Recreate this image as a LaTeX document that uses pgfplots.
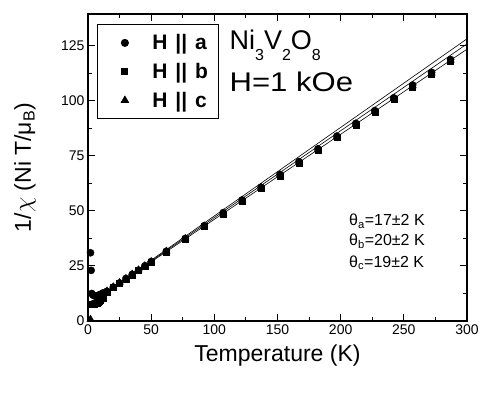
\documentclass[border=0pt]{standalone}
\usepackage{fontspec}
\setmainfont{Liberation Sans}
\usepackage{pgfplots}
\pgfplotsset{compat=1.18}
\pgfplotsset{legmark/.style={legend image code/.code={%
    \path (0pt,0pt) (30pt,0pt);
    \draw[##1] plot coordinates {(19pt,0pt)};}}}

\newcommand{\leg}[1]{\hspace{14pt}H\hspace{8pt}||\hspace{8pt}#1}

\begin{document}
\begin{tikzpicture}
\path[use as bounding box] (-88pt,-77pt) rectangle (403pt,321pt);
\begin{axis}[
    scale only axis,
    width=379pt, height=307pt,
    xmin=0, xmax=300, ymin=0, ymax=139.5,
    xtick={0,50,...,300}, ytick={0,25,...,125},
    minor x tick num=1, minor y tick num=1,
    tick align=inside,
    major tick length=7pt, minor tick length=4pt,
    axis line style={line width=1.3pt},
    every tick/.style={black, line width=1pt},
    tick label style={font=\fontsize{14}{16}\selectfont},
    /pgf/number format/assume math mode=true,
    xlabel={Temperature (K)},
    ylabel={1/$\chi$ (Ni T/μ\textsubscript{B})},
    label style={font=\fontsize{23}{26}\selectfont},
    xlabel style={at={(axis description cs:0.5,-0.111)}, anchor=center},
    ylabel style={at={(axis description cs:-0.166,0.5)}, anchor=center},
    legend style={at={(axis description cs:0.024,0.967)}, anchor=north west,
        draw=black, line width=0.8pt, font=\bfseries\fontsize{21}{23}\selectfont,
        row sep=8pt, inner xsep=8pt, inner ysep=8pt, legend cell align=left},
]
% Curie-Weiss fits
\addplot[black, line width=0.6pt, forget plot] coordinates {(2,8.3)(300,128.2)};
\addplot[black, line width=0.6pt, forget plot] coordinates {(2,8.3)(300,125.9)};
\addplot[black, line width=0.6pt, forget plot] coordinates {(2,8.3)(300,123.5)};

% H || a
\addplot[only marks, mark=*, mark size=3.6pt, black, legmark] coordinates {
    (2,31)(2.5,23)(3,12.5)(4,11.8)(5,11.5)(6,11.3)(7,11.4)(8,11.6)(9,11.9)(10,12.2)(12,12.8)
    (15,13.5)(20,15.4)(25,17.3)(30,19.3)(35,21.2)(40,23.1)(45,25.1)(50,27.0)
    (62,31.7)(77,37.5)(92,43.3)(107,49.2)(122,55.0)(137,60.8)(152,66.6)(167,72.4)
    (182,78.2)(197,84.0)(212,89.8)(227,95.6)(242,101.4)(257,107.2)(272,113.0)(287,118.8)
};
\addlegendentry{\leg{a}}
% H || b
\addplot[only marks, mark=square*, mark size=3pt, black, legmark] coordinates {
    (2,7.8)(3,7.6)(4,7.6)(5,7.8)(6,8.0)(7,8.3)(8,8.6)(9,9.0)(10,9.4)(12,10.2)
    (15,13.3)(20,15.2)(25,17.1)(30,19.0)(35,21.0)(40,22.9)(45,24.8)(50,26.7)
    (62,31.4)(77,37.1)(92,42.9)(107,48.7)(122,54.5)(137,60.2)(152,66.0)(167,71.8)
    (182,77.6)(197,83.3)(212,89.1)(227,94.9)(242,100.7)(257,106.4)(272,112.2)(287,118.0)
};
\addlegendentry{\leg{b}}
% H || c
\addplot[only marks, mark=triangle*, mark size=4.2pt, black, legmark] coordinates {
    (2,0.8)(3,7.4)(4,7.6)(5,7.9)(6,8.2)(7,8.5)(8,8.8)(9,9.2)(10,9.6)(12,10.4)
    (15,13.6)(20,15.5)(25,17.4)(30,19.3)(35,21.3)(40,23.2)(45,25.1)(50,27.0)
    (62,31.7)(77,37.4)(92,43.2)(107,49.0)(122,54.8)(137,60.6)(152,66.4)(167,72.2)
    (182,78.0)(197,83.7)(212,89.5)(227,95.3)(242,101.1)(257,106.9)(272,112.7)(287,118.5)
};
\addlegendentry{\leg{c}}

\node[anchor=base west, font=\fontsize{27}{30}\selectfont, inner sep=0pt] at (axis cs:112,123.2)
    {Ni\raisebox{-11pt}{\fontsize{16}{16}\selectfont 3}V\raisebox{-11pt}{\fontsize{16}{16}\selectfont 2}O\raisebox{-11pt}{\fontsize{16}{16}\selectfont 8}};
\node[anchor=base west, font=\fontsize{27}{30}\selectfont, inner sep=0pt] at (axis cs:112,104.2)
    {\scalebox{1.15}[1]{H=1 kOe}};
\node[anchor=base west, font=\fontsize{16}{18}\selectfont, inner sep=0pt] at (axis cs:206.6,43.2) {θ\textsubscript{a}=17±2 K};
\node[anchor=base west, font=\fontsize{16}{18}\selectfont, inner sep=0pt] at (axis cs:206.6,34.3) {θ\textsubscript{b}=20±2 K};
\node[anchor=base west, font=\fontsize{16}{18}\selectfont, inner sep=0pt] at (axis cs:206.6,24.4) {θ\textsubscript{c}=19±2 K};
\end{axis}
\end{tikzpicture}
\end{document}
